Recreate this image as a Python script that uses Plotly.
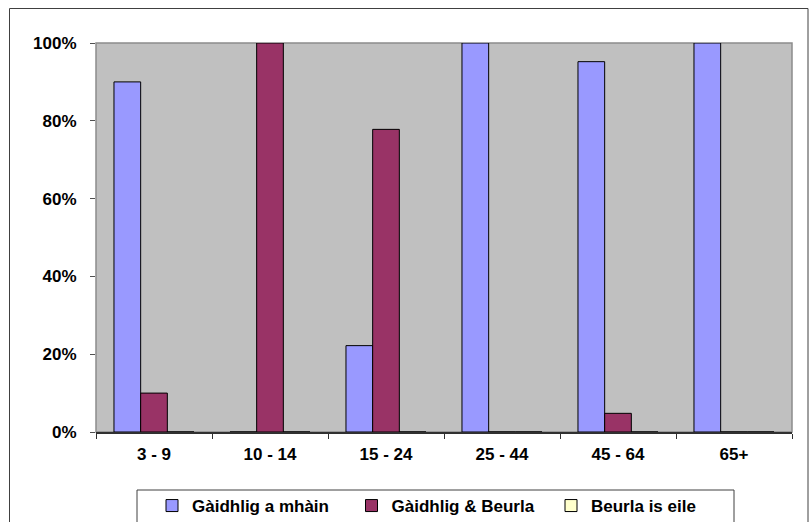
import plotly.graph_objects as go

# Age groups and share of speakers (%) per language category
age_groups = ["3 - 9", "10 - 14", "15 - 24", "25 - 44", "45 - 64", "65+"]
gaelic_only = [90.0, 0.0, 22.2, 100.0, 95.2, 100.0]
gaelic_english = [10.0, 100.0, 77.8, 0.0, 4.8, 0.0]
english_other = [0.0, 0.0, 0.0, 0.0, 0.0, 0.0]

series_names = ["Gàidhlig a mhàin", "Gàidhlig & Beurla", "Beurla is eile"]
series_colors = ["#9999FF", "#993366", "#FFFFCC"]
y_ticks = [0, 20, 40, 60, 80, 100]

W, H = 809, 522
ML, MR, MT, MB = 96, 17, 43, 90
PW, PH = W - ML - MR, H - MT - MB

font_family = "Liberation Sans, Arial, sans-serif"
label_font = dict(family=font_family, size=17, color="#000000", weight="bold")

fig = go.Figure()
for name, vals, col in zip(series_names, [gaelic_only, gaelic_english, english_other], series_colors):
    fig.add_trace(go.Bar(
        x=age_groups, y=vals, name=name,
        marker=dict(color=col, line=dict(color="#000000", width=1)),
    ))


def px_x(x):
    return (x - ML) / PW


def px_y(y):
    return (H - MB - y) / PH


shapes = [
    # outer chart frame
    dict(type="rect", xref="paper", yref="paper",
         x0=px_x(9.5), x1=px_x(808), y0=px_y(530), y1=px_y(8.5),
         line=dict(color="#404040", width=1), fillcolor="rgba(0,0,0,0)", layer="below"),
    # plot area border
    dict(type="rect", xref="paper", yref="paper", x0=0, x1=1, y0=0, y1=1,
         line=dict(color="#8C8C8C", width=1.5), fillcolor="rgba(0,0,0,0)", layer="below"),
    # legend frame
    dict(type="rect", xref="paper", yref="paper",
         x0=px_x(137), x1=px_x(734), y0=px_y(530), y1=px_y(490),
         line=dict(color="#404040", width=1), fillcolor="rgba(0,0,0,0)"),
]

fig.update_layout(
    width=W, height=H,
    margin=dict(l=ML, r=MR, t=MT, b=MB, autoexpand=False),
    paper_bgcolor="#FFFFFF",
    plot_bgcolor="#C0C0C0",
    barmode="group",
    bargap=0.31,
    bargroupgap=0,
    font=dict(family=font_family, size=17, color="#000000"),
    showlegend=True,
    legend=dict(
        orientation="h",
        xref="container", x=152 / W, xanchor="left",
        yref="container", y=1 - 506 / H, yanchor="middle",
        font=label_font,
        entrywidth=154.5, entrywidthmode="pixels",
        bgcolor="rgba(0,0,0,0)", borderwidth=0,
        itemclick=False, itemdoubleclick=False,
    ),
    shapes=shapes,
)

fig.update_xaxes(
    type="category",
    showline=True, linecolor="#303030", linewidth=1.5, mirror=False,
    ticks="outside", ticklen=5, tickcolor="#303030", tickson="boundaries",
    showgrid=False, ticklabelstandoff=6,
    tickfont=label_font,
)
fig.update_yaxes(
    range=[0, 100], tickvals=y_ticks, ticktext=[f"{v}%" for v in y_ticks],
    showline=False,
    ticks="outside", ticklen=5, tickcolor="#505050",
    showgrid=False, zeroline=False, ticklabelstandoff=10,
    tickfont=label_font,
)

fig.write_html("out.html")
